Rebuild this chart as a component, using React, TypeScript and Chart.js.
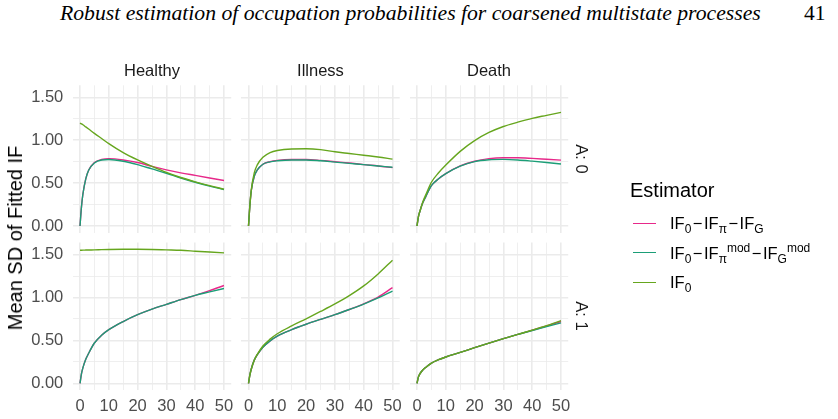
import React, { useEffect, useRef } from "react";
import { Chart, registerables } from "chart.js";
Chart.register(...registerables);

// ---------- data ----------
const times = [0, 0.5, 1, 2, 3, 5, 7.5, 10, 15, 20, 25, 30, 35, 40, 45, 50];
const states = ["Healthy", "Illness", "Death"];
const groups = ["A: 0", "A: 1"];
const estimators = ["IF0-IFpi-IFG", "IF0-IFpi^mod-IFG^mod", "IF0"];
const estimatorColors = ["#E7298A", "#1B9E77", "#66A61E"];
const xGridValues = [0, 5, 10, 15, 20, 25, 30, 35, 40, 45, 50];
const xTickValues = [0, 10, 20, 30, 40, 50];
const yGridValues = [0, 0.25, 0.5, 0.75, 1, 1.25, 1.5];
const yTickValues = [0, 0.5, 1, 1.5];

// A: 0
const healthyA0Full = [0, 0.22, 0.37, 0.55, 0.65, 0.74, 0.775, 0.785, 0.77, 0.74, 0.695, 0.655, 0.62, 0.59, 0.56, 0.53];
const healthyA0Mod = [0, 0.22, 0.37, 0.55, 0.65, 0.735, 0.77, 0.775, 0.755, 0.715, 0.665, 0.615, 0.56, 0.51, 0.465, 0.425];
const healthyA0IF0 = [1.2, 1.19, 1.18, 1.155, 1.13, 1.08, 1.02, 0.96, 0.855, 0.77, 0.695, 0.625, 0.565, 0.515, 0.47, 0.43];

const illnessA0Full = [0, 0.25, 0.42, 0.58, 0.65, 0.72, 0.75, 0.765, 0.775, 0.775, 0.765, 0.75, 0.735, 0.715, 0.7, 0.68];
const illnessA0Mod = [0, 0.25, 0.42, 0.58, 0.65, 0.72, 0.748, 0.76, 0.77, 0.77, 0.76, 0.745, 0.73, 0.715, 0.7, 0.685];
const illnessA0IF0 = [0, 0.25, 0.43, 0.62, 0.71, 0.8, 0.855, 0.88, 0.898, 0.9, 0.89, 0.865, 0.845, 0.825, 0.805, 0.78];

const deathA0Full = [0, 0.11, 0.17, 0.27, 0.34, 0.47, 0.55, 0.61, 0.7, 0.755, 0.785, 0.795, 0.795, 0.788, 0.778, 0.768];
const deathA0Mod = [0, 0.11, 0.17, 0.27, 0.34, 0.47, 0.55, 0.61, 0.698, 0.75, 0.772, 0.777, 0.77, 0.756, 0.74, 0.723];
const deathA0IF0 = [0, 0.11, 0.17, 0.28, 0.36, 0.51, 0.62, 0.71, 0.87, 0.995, 1.09, 1.16, 1.21, 1.255, 1.29, 1.325];

// A: 1
const healthyA1Full = [0, 0.11, 0.18, 0.28, 0.35, 0.47, 0.56, 0.625, 0.72, 0.8, 0.865, 0.92, 0.975, 1.025, 1.08, 1.14];
const healthyA1Mod = [0, 0.11, 0.18, 0.28, 0.35, 0.47, 0.56, 0.625, 0.72, 0.8, 0.865, 0.92, 0.975, 1.025, 1.065, 1.105];
const healthyA1IF0 = [1.55, 1.551, 1.552, 1.553, 1.554, 1.555, 1.558, 1.56, 1.562, 1.562, 1.56, 1.555, 1.55, 1.54, 1.53, 1.52];

const illnessA1Full = [0, 0.1, 0.17, 0.27, 0.33, 0.42, 0.495, 0.55, 0.625, 0.688, 0.745, 0.8, 0.86, 0.927, 1.005, 1.115];
const illnessA1Mod = [0, 0.1, 0.17, 0.27, 0.33, 0.42, 0.495, 0.55, 0.625, 0.688, 0.745, 0.8, 0.86, 0.923, 0.995, 1.075];
const illnessA1IF0 = [0, 0.1, 0.17, 0.27, 0.335, 0.435, 0.515, 0.578, 0.67, 0.752, 0.837, 0.925, 1.022, 1.135, 1.275, 1.435];

const deathA1Full = [0, 0.075, 0.11, 0.155, 0.185, 0.235, 0.275, 0.307, 0.36, 0.415, 0.468, 0.52, 0.57, 0.618, 0.668, 0.72];
const deathA1Mod = [0, 0.075, 0.11, 0.155, 0.185, 0.235, 0.275, 0.307, 0.36, 0.415, 0.468, 0.52, 0.57, 0.616, 0.66, 0.705];
const deathA1IF0 = [0, 0.075, 0.11, 0.155, 0.185, 0.235, 0.275, 0.307, 0.36, 0.415, 0.468, 0.52, 0.57, 0.62, 0.672, 0.73];

const panelSeries = [
  [
    [healthyA0Full, healthyA0Mod, healthyA0IF0],
    [illnessA0Full, illnessA0Mod, illnessA0IF0],
    [deathA0Full, deathA0Mod, deathA0IF0],
  ],
  [
    [healthyA1Full, healthyA1Mod, healthyA1IF0],
    [illnessA1Full, illnessA1Mod, illnessA1IF0],
    [deathA1Full, deathA1Mod, deathA1IF0],
  ],
];

// ---------- layout ----------
const W = 838;
const H = 419;
const PANEL_LEFT = [72.8, 241.3, 409.8];
const PANEL_TOP = [85.3, 242.6];
const PW = 158.4;
const PH = 147.4;
const Y_AXIS_W = 50;
const X_AXIS_H = 28;
const SANS = '"Liberation Sans", Arial, Helvetica, sans-serif';
const GRID = "#EBEBEB";
const TICK_COLOR = "#4D4D4D";
const TICK_SIZE = 16.5;

const inList = (list: number[], v: number) => list.some((t) => Math.abs(t - v) < 1e-6);

function makeConfig(row: number, col: number): any {
  const isLeft = col === 0;
  const isBottom = row === 1;
  const left = PANEL_LEFT[col];
  const top = PANEL_TOP[row];
  const yW = isLeft ? Y_AXIS_W : 0;
  const xH = isBottom ? X_AXIS_H : 0;
  const series = panelSeries[row][col];
  return {
    type: "line",
    data: {
      datasets: series.map((vals, i) => ({
        label: estimators[i],
        data: times.map((t, j) => ({ x: t, y: vals[j] })),
        borderColor: estimatorColors[i],
        backgroundColor: estimatorColors[i],
        borderWidth: 1.4,
        pointRadius: 0,
        cubicInterpolationMode: "monotone",
        fill: false,
        order: series.length - 1 - i,
      })),
    },
    options: {
      animation: false,
      responsive: false,
      events: [],
      layout: {
        padding: {
          left: left - yW,
          top: top,
          right: W - left - PW,
          bottom: H - top - PH - xH,
        },
      },
      plugins: { legend: { display: false }, tooltip: { enabled: false }, title: { display: false } },
      scales: {
        x: {
          type: "linear",
          min: -2.5,
          max: 52.5,
          afterBuildTicks: (s: any) => {
            s.ticks = xGridValues.map((v) => ({ value: v }));
          },
          afterFit: (s: any) => {
            s.height = xH;
          },
          border: { display: false },
          grid: {
            drawTicks: false,
            color: GRID,
            lineWidth: (ctx: any) => (ctx.tick && inList(xTickValues, ctx.tick.value) ? 1.6 : 0.8),
          },
          ticks: {
            display: isBottom,
            autoSkip: false,
            maxRotation: 0,
            padding: 7,
            color: TICK_COLOR,
            font: { family: SANS, size: TICK_SIZE },
            callback: (v: number) => (inList(xTickValues, v) ? String(v) : ""),
          },
        },
        y: {
          type: "linear",
          min: -0.078,
          max: 1.64,
          afterBuildTicks: (s: any) => {
            s.ticks = yGridValues.map((v) => ({ value: v }));
          },
          afterFit: (s: any) => {
            s.width = yW;
          },
          border: { display: false },
          grid: {
            drawTicks: false,
            color: GRID,
            lineWidth: (ctx: any) => (ctx.tick && inList(yTickValues, ctx.tick.value) ? 1.6 : 0.8),
          },
          ticks: {
            display: isLeft,
            autoSkip: false,
            padding: 9.5,
            color: TICK_COLOR,
            font: { family: SANS, size: TICK_SIZE },
            callback: (v: number) => (inList(yTickValues, v) ? v.toFixed(2) : ""),
          },
        },
      },
    },
  };
}

function Panel({ row, col }: { row: number; col: number }) {
  const ref = useRef<HTMLCanvasElement | null>(null);
  useEffect(() => {
    if (!ref.current) return;
    const chart = new Chart(ref.current, makeConfig(row, col));
    return () => chart.destroy();
  }, [row, col]);
  return (
    <canvas
      ref={ref}
      width={W}
      height={H}
      style={{ position: "absolute", left: 0, top: 0, width: W, height: H }}
    />
  );
}

const abs = (s: React.CSSProperties): React.CSSProperties => ({ position: "absolute", whiteSpace: "nowrap", ...s });

export default function App() {
  const legendRows = [223.3, 252.7, 282.3];
  const subStyle: React.CSSProperties = { fontSize: 12, verticalAlign: "-0.3em", lineHeight: 0 };
  const supStyle: React.CSSProperties = { fontSize: 12, verticalAlign: "0.55em", lineHeight: 0 };
  const minus = <span style={{ padding: "0 1.5px" }}>−</span>;
  const legendLabels = [
    <span>
      IF<span style={subStyle}>0</span>
      {minus}IF<span style={subStyle}>π</span>
      {minus}IF<span style={subStyle}>G</span>
    </span>,
    <span>
      IF<span style={subStyle}>0</span>
      {minus}IF<span style={subStyle}>π</span>
      <span style={supStyle}>mod</span>
      {minus}IF<span style={subStyle}>G</span>
      <span style={supStyle}>mod</span>
    </span>,
    <span>
      IF<span style={subStyle}>0</span>
    </span>,
  ];
  return (
    <div style={{ position: "absolute", left: 0, top: 0, width: W, height: H, background: "#fff", overflow: "hidden" }}>
      {/* page header */}
      <div
        style={abs({
          left: 60,
          top: 0,
          fontFamily: '"Liberation Serif", "Times New Roman", serif',
          fontStyle: "italic",
          fontSize: 21.7,
          lineHeight: "26px",
          color: "#000",
        })}
      >
        Robust estimation of occupation probabilities for coarsened multistate processes
      </div>
      <div
        style={abs({
          left: 804,
          top: 0,
          fontFamily: '"Liberation Serif", "Times New Roman", serif',
          fontSize: 21.5,
          lineHeight: "26px",
          color: "#000",
        })}
      >
        41
      </div>

      {[0, 1].map((r) => [0, 1, 2].map((c) => <Panel key={`${r}-${c}`} row={r} col={c} />))}

      {/* top strips */}
      {states.map((s, c) => (
        <div
          key={s}
          style={abs({
            left: PANEL_LEFT[c],
            width: PW,
            top: 60,
            textAlign: "center",
            fontFamily: SANS,
            fontSize: TICK_SIZE,
            lineHeight: "20px",
            color: "#1A1A1A",
          })}
        >
          {s}
        </div>
      ))}
      {/* right strips */}
      {groups.map((g, r) => (
        <div
          key={g}
          style={abs({
            left: 582,
            top: PANEL_TOP[r] + PH / 2,
            transform: "translate(-50%, -50%) rotate(90deg)",
            fontFamily: SANS,
            fontSize: TICK_SIZE,
            lineHeight: "20px",
            color: "#1A1A1A",
          })}
        >
          {g}
        </div>
      ))}
      {/* y title */}
      <div
        style={abs({
          left: 15,
          top: (PANEL_TOP[0] + PANEL_TOP[1] + PH) / 2,
          transform: "translate(-50%, -50%) rotate(-90deg)",
          fontFamily: SANS,
          fontSize: 20,
          lineHeight: "24px",
          color: "#000",
        })}
      >
        Mean SD of Fitted IF
      </div>
      {/* legend */}
      <div
        style={abs({ left: 630, top: 190, transform: "translateY(-50%)", fontFamily: SANS, fontSize: 20, lineHeight: "24px", color: "#000" })}
      >
        Estimator
      </div>
      {legendRows.map((y, i) => (
        <React.Fragment key={i}>
          <div style={abs({ left: 633, top: y - 0.8, width: 23, height: 1.6, background: estimatorColors[i] })} />
          <div
            style={abs({
              left: 670,
              top: y,
              transform: "translateY(-50%)",
              fontFamily: SANS,
              fontSize: TICK_SIZE,
              lineHeight: "20px",
              color: "#000",
            })}
          >
            {legendLabels[i]}
          </div>
        </React.Fragment>
      ))}
    </div>
  );
}
